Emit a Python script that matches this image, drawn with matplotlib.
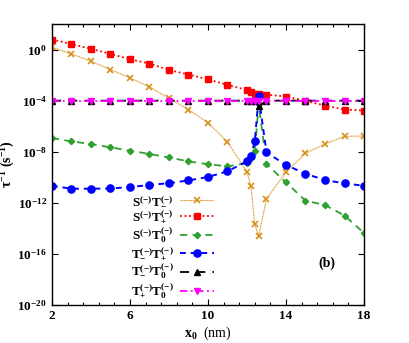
import numpy as np
import matplotlib
matplotlib.use("Agg")
import matplotlib.pyplot as plt
from matplotlib.ticker import FixedLocator, NullLocator

plt.rcParams['font.family'] = ['Liberation Serif', 'DejaVu Serif']
plt.rcParams['font.weight'] = 'bold'
plt.rcParams['mathtext.fontset'] = 'custom'
plt.rcParams['mathtext.rm'] = 'Liberation Serif:bold'
plt.rcParams['mathtext.it'] = 'Liberation Serif:bold'
plt.rcParams['mathtext.bf'] = 'Liberation Serif:bold'

# x0 (nm)
x0 = [2, 3, 4, 5, 6, 7, 8, 9, 10, 11, 12, 12.2, 12.4, 12.6, 13, 14, 15, 16, 17, 18]

# log10 of rates
log_s_tm = [0.18, -0.34, -0.92, -1.57, -2.22, -2.93, -3.82, -4.7, -5.73, -7.24,
            -9.6, -10.67, -13.7, -14.6, -11.7, -9.6, -8.13, -7.4, -6.8, -6.77]
log_s_tp = [0.78, 0.44, 0.05, -0.34, -0.76, -1.1, -1.6, -1.96, -2.33, -2.77,
            -3.17, -3.3, -3.45, -3.5, -3.53, -3.68, -4.02, -4.39, -4.7, -4.78]
log_s_t0 = [-6.93, -7.19, -7.4, -7.66, -7.92, -8.18, -8.45, -8.76, -8.98, -9.15,
            -8.9, -8.5, -7.95, -4.3, -8.97, -10.4, -11.84, -12.18, -13.0, -14.37]
log_tm_tp = [-10.67, -10.9, -10.9, -10.88, -10.77, -10.61, -10.46, -10.25, -9.98, -9.54,
             -8.75, -8.35, -7.2, -3.66, -8.05, -9.04, -9.73, -10.22, -10.48, -10.67]
log_tm_t0 = [-4.0, -4.0, -4.0, -4.0, -4.0, -4.0, -4.0, -4.0, -4.0, -4.0,
             -4.0, -4.0, -4.0, -4.45, -4.0, -4.0, -4.0, -4.0, -4.0, -4.0]
log_tp_t0 = [-4.02] * 20

labels = [r'$\mathrm{S^{(-)}T_{-}^{(-)}}$', r'$\mathrm{S^{(-)}T_{+}^{(-)}}$',
          r'$\mathrm{S^{(-)}T_{0}^{(-)}}$', r'$\mathrm{T_{-}^{(-)}T_{+}^{(-)}}$',
          r'$\mathrm{T_{-}^{(-)}T_{0}^{(-)}}$', r'$\mathrm{T_{+}^{(-)}T_{0}^{(-)}}$']

xticks = [2, 6, 10, 14, 18]
yticks = [1e0, 1e-4, 1e-8, 1e-12, 1e-16, 1e-20]
ytick_labels = [r'$\mathrm{10^{0}}$', r'$\mathrm{10^{-4}}$', r'$\mathrm{10^{-8}}$',
                r'$\mathrm{10^{-12}}$', r'$\mathrm{10^{-16}}$', r'$\mathrm{10^{-20}}$']

fig = plt.figure(figsize=(4.09, 3.43), dpi=100)
ax = fig.add_axes([0.127, 0.111, 0.763, 0.819])

x = np.array(x0)
ax.plot(x, 10 ** np.array(log_s_tm), color='#d8901c', lw=0.8, ls=(0, (1, 0.6)),
        marker='x', ms=4.5, mew=1.2, label=labels[0])
ax.plot(x, 10 ** np.array(log_s_tp), color='#ff0000', lw=1.3, ls=(0, (1, 1.5)),
        marker='s', ms=3.8, label=labels[1])
ax.plot(x, 10 ** np.array(log_s_t0), color='#30a030', lw=1.3, ls=(0, (4, 3)),
        marker='D', ms=3.2, label=labels[2])
ax.plot(x, 10 ** np.array(log_tm_tp), color='#0000ff', lw=1.4, ls=(0, (3, 2.5)),
        marker='o', ms=5.2, label=labels[3])
ax.plot(x, 10 ** np.array(log_tm_t0), color='#000000', lw=1.3, ls=(0, (5, 4)),
        marker='^', ms=4, label=labels[4])
ax.plot(x, 10 ** np.array(log_tp_t0), color='#ff00ff', lw=1.3, ls=(0, (4, 2, 1, 2)),
        marker='v', ms=4, label=labels[5])

ax.set_yscale('log')
ax.set_xlim(2, 18)
ax.set_ylim(1e-20, 1e2)
ax.set_xticks(xticks)
ax.set_xticklabels([str(t) for t in xticks])
ax.xaxis.set_minor_locator(FixedLocator(np.arange(2, 18.01, 0.8)))
ax.set_yticks(yticks)
ax.set_yticklabels(ytick_labels)
ax.yaxis.set_minor_locator(NullLocator())
ax.tick_params(which='both', direction='in', top=True, right=True, labelsize=9.5)
ax.tick_params(which='major', length=4.5, width=0.8)
ax.tick_params(which='minor', length=2.5, width=0.8)
for sp in ax.spines.values():
    sp.set_linewidth(1.0)

ax.set_xlabel(r'$\mathrm{x_0}$  (nm)', fontsize=10, labelpad=2)
ax.set_ylabel(r'$\mathrm{\tau^{-1}\ (s^{-1})}$', fontsize=10, labelpad=0)

ax.text(0.88, 0.15, '(b)', transform=ax.transAxes, fontsize=10, ha='center', va='center')

leg = ax.legend(loc='center right', bbox_to_anchor=(0.52, 0.203), frameon=False,
                markerfirst=False, numpoints=1, handlelength=2.6, fontsize=9.5,
                labelspacing=0.0, borderpad=0, borderaxespad=0, handletextpad=0.5)

fig.savefig('out.png', dpi=100)
